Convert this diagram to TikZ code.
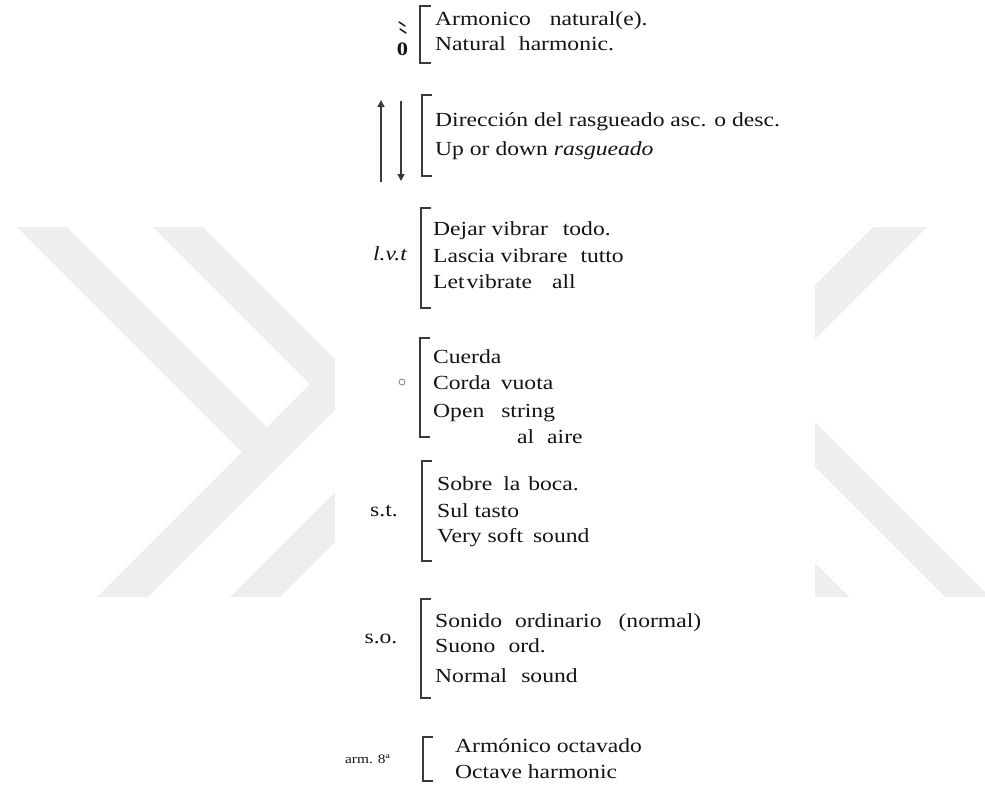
\documentclass[tikz,border=0pt]{standalone}
\usepackage{fontspec}
\setmainfont{Liberation Serif}[FakeStretch=1.18]
\usetikzlibrary{arrows.meta}

\definecolor{wmgray}{HTML}{EEEEEE}
\definecolor{inkblack}{HTML}{141414}
\definecolor{inkgray}{HTML}{3A3A3A}

\tikzset{
  txt/.style={anchor=base west, inner sep=0pt, text=inkblack, font=\fontsize{20}{24}\selectfont},
  sign/.style={anchor=base, inner sep=0pt, text=inkblack, font=\fontsize{20}{24}\selectfont},
  bracketline/.style={draw=inkgray, line width=1.9pt},
  strum/.style={draw=inkgray, line width=1.6pt, -{Triangle[length=7pt,width=7pt]}}
}

\begin{document}
\begin{tikzpicture}[x=1pt, y=-1pt]
\useasboundingbox (0,0) rectangle (985,785);

% watermark, hidden behind the text column
\begin{scope}
  \clip (0,0) rectangle (335,785) (815,0) rectangle (985,785);
  \fill[wmgray] (17,227) -- (67,227) -- (267,427) -- (242,452) -- cycle;
  \fill[wmgray] (97,597) -- (148,597) -- (336,409) -- (310,384) -- cycle;
  \fill[wmgray] (153,227) -- (203,227) -- (340,364) -- (340,414) -- cycle;
  \fill[wmgray] (230,597) -- (280,597) -- (340,537) -- (340,487) -- cycle;
  \fill[wmgray] (873,227) -- (927,227) -- (810,344) -- (810,290) -- cycle;
  \fill[wmgray] (810,417) -- (810,462) -- (945,597) -- (990,597) -- cycle;
  \fill[wmgray] (810,558) -- (849,597) -- (810,597) -- cycle;
\end{scope}

% natural harmonic
\draw[inkblack, line width=1.4pt, line cap=round] (399,22) -- (405,26) (400,29) -- (406,33);
\node[sign, font=\bfseries\fontsize{19}{22}\selectfont] (zero) at (402.5,55) {0};
\draw[bracketline] (431,6) -| (420,63) -- (431,63);
\node[txt] (harmES) at (435,25) {Armonico\hspace{19pt}natural(e).};
\node[txt] (harmEN) at (435,50) {Natural\hspace{13pt}harmonic.};

% strumming direction
\coordinate (upS) at (381,182);
\coordinate (upE) at (381,100);
\coordinate (dnS) at (401,101);
\coordinate (dnE) at (401,181);
\draw[strum] (upS) -- (upE);
\draw[strum] (dnS) -- (dnE);
\draw[bracketline] (432,95) -| (422,176) -- (432,176);
\node[txt] (strumES) at (435,126) {Dirección del rasgueado asc. o desc.};
\node[txt] (strumEN) at (435,155) {Up or down \textit{rasgueado}};

% let vibrate
\node[sign, font=\itshape\fontsize{20}{24}\selectfont] (lvt) at (390,260) {l.v.t};
\draw[bracketline] (431,208) -| (421,308) -- (431,308);
\node[txt] (lvtES) at (433,235) {Dejar vibrar\hspace{15pt}todo.};
\node[txt] (lvtIT) at (433,262) {Lascia vibrare\hspace{13pt}tutto};
\node[txt] (lvtEN) at (433,288) {Let\hspace{2pt}vibrate\hspace{20pt}all};

% open string
\node[circle, draw=gray, line width=0.8pt, inner sep=0pt, minimum size=6pt] (open) at (402,382) {};
\draw[bracketline] (430,338) -| (420,437) -- (430,437);
\node[txt] (openES) at (433,363) {Cuerda};
\node[txt] (openIT) at (433,389) {Corda\hspace{10pt}vuota};
\node[txt] (openEN) at (433,417) {Open\hspace{17pt}string};
\node[txt] (openES2) at (517,443) {al\hspace{13pt}aire};

% sul tasto
\node[sign] (st) at (384,516) {s.t.};
\draw[bracketline] (432,461) -| (422,561) -- (432,561);
\node[txt] (stES) at (437,490) {Sobre\hspace{11pt}la\hspace{8pt}boca.};
\node[txt] (stIT) at (437,517) {Sul tasto};
\node[txt] (stEN) at (437,542) {Very soft\hspace{10pt}sound};

% ordinary sound
\node[sign] (so) at (381,643) {s.o.};
\draw[bracketline] (431,599) -| (421,698) -- (431,698);
\node[txt] (soES) at (435,627) {Sonido\hspace{13pt}ordinario\hspace{17pt}(normal)};
\node[txt] (soIT) at (435,652) {Suono\hspace{13pt}ord.};
\node[txt] (soEN) at (435,682) {Normal\hspace{14pt}sound};

% octave harmonic
\node[sign, font=\fontsize{13}{15}\selectfont] (arm) at (367.5,763) {arm. 8ª};
\draw[bracketline] (433,737) -| (423,781) -- (433,781);
\node[txt] (octES) at (455,752) {Armónico octavado};
\node[txt] (octEN) at (455,778) {Octave harmonic};
\end{tikzpicture}
\end{document}
